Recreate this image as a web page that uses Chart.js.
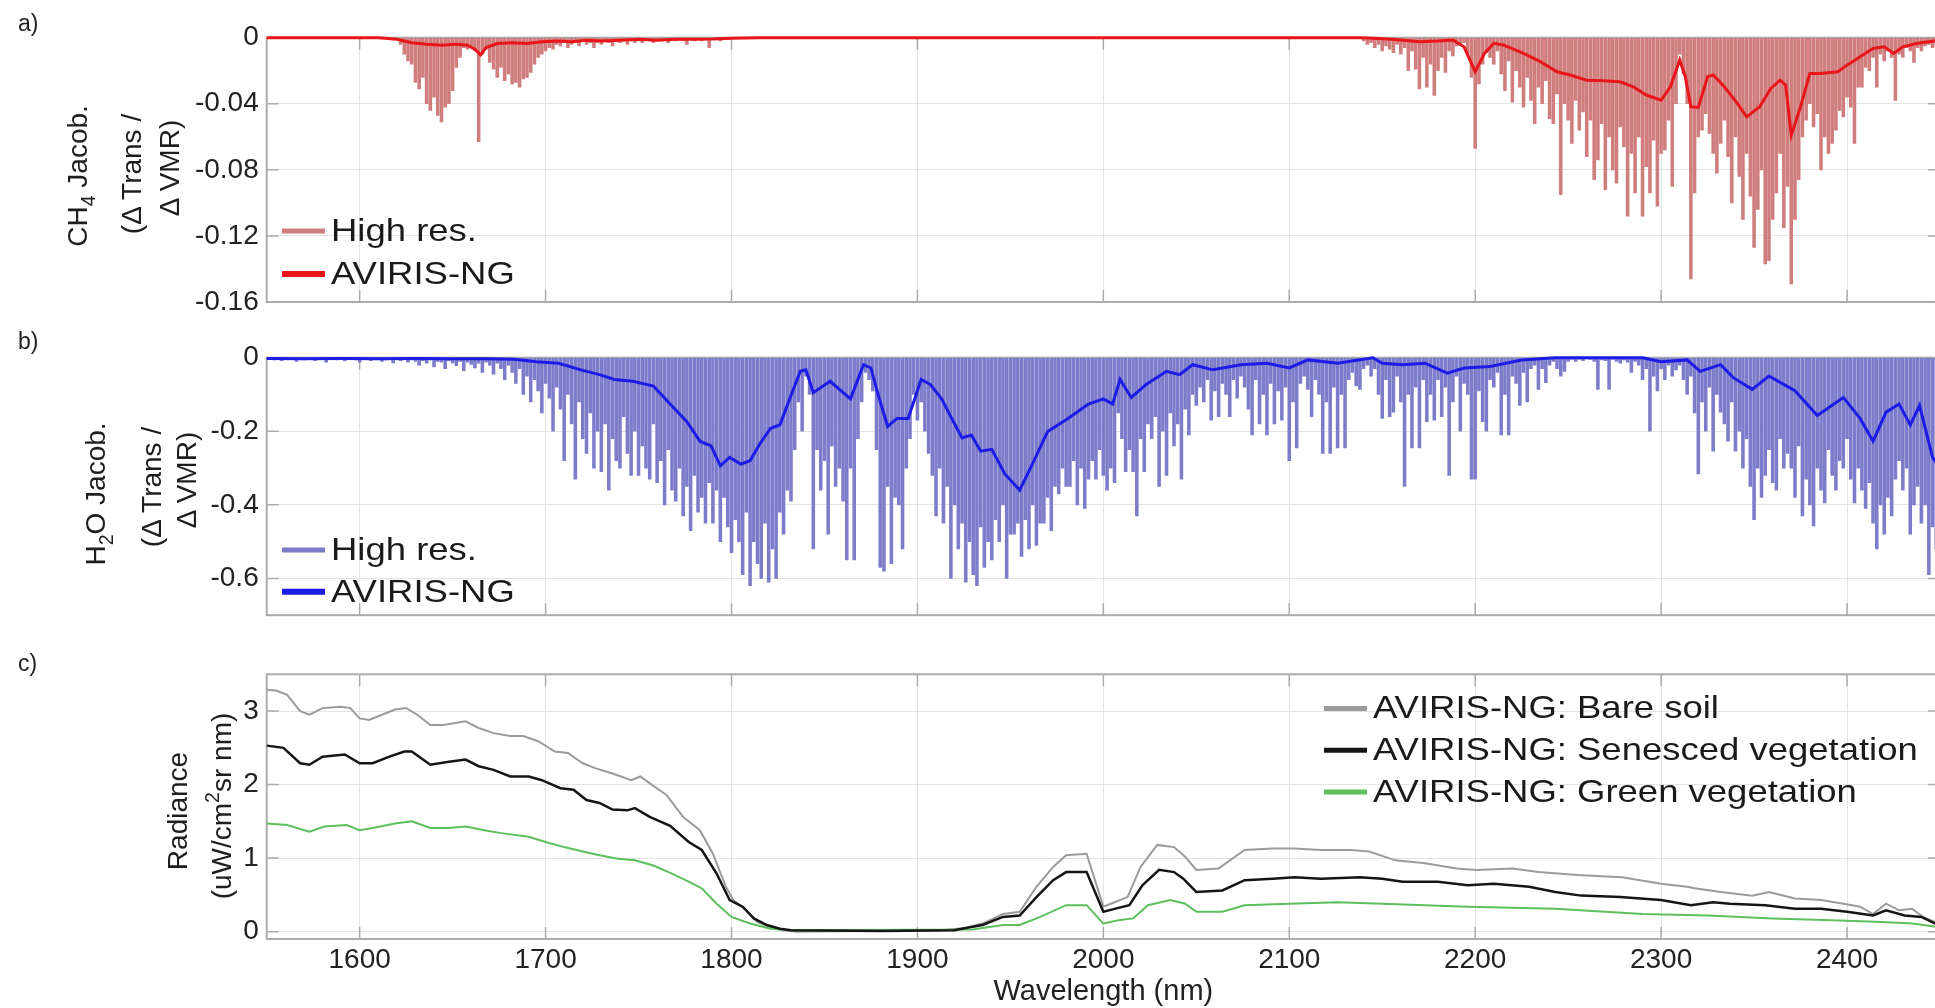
<!DOCTYPE html>
<html lang="en">
<head>
<meta charset="utf-8">
<title>CH4 and H2O Jacobians with AVIRIS-NG radiance</title>
<script src="https://cdn.jsdelivr.net/npm/chart.js@4.4.1/dist/chart.umd.min.js"></script>
<style>
  html, body { margin: 0; padding: 0; background: #fff; overflow: hidden; }
  #fig { position: relative; width: 1935px; height: 1008px; overflow: hidden;
         font-family: "Liberation Sans", Arial, Helvetica, sans-serif; color: #1e1e1e; }
  #fig canvas { position: absolute; left: 0; }
  .tag { position: absolute; left: 18px; font-size: 23px; line-height: 1; transform: translateY(-50%); }
  .yt { position: absolute; white-space: nowrap; font-size: 28px; line-height: 1;
        transform: translate(-50%, -50%) rotate(-90deg); }
  .yt sub { font-size: 0.7em; vertical-align: -0.4em; line-height: 0; }
  .yt sup { font-size: 0.7em; vertical-align: 0.6em; line-height: 0; }
</style>
</head>
<body>
<div id="fig">
  <canvas id="panelA" width="1941" height="330" style="top:0px"></canvas>
  <canvas id="panelB" width="1941" height="310" style="top:330px"></canvas>
  <canvas id="panelC" width="1941" height="368" style="top:640px"></canvas>

  <div class="tag" style="top:23px">a)</div>
  <div class="tag" style="top:341px">b)</div>
  <div class="tag" style="top:663px">c)</div>

  <div class="yt" style="left:78px; top:176px">CH<sub>4</sub> Jacob.</div>
  <div class="yt" style="left:132px; top:174px">(&Delta; Trans /</div>
  <div class="yt" style="left:170px; top:168px">&Delta; VMR)</div>

  <div class="yt" style="left:96px; top:494px">H<sub>2</sub>O Jacob.</div>
  <div class="yt" style="left:152px; top:487px">(&Delta; Trans /</div>
  <div class="yt" style="left:187px; top:480px">&Delta; VMR)</div>

  <div class="yt" style="left:178px; top:811px">Radiance</div>
  <div class="yt" style="left:222px; top:806px">(uW/cm<sup>2</sup>sr nm)</div>
</div>

<script>
// ---------- axes ----------
const xTickValues = [1600, 1700, 1800, 1900, 2000, 2100, 2200, 2300, 2400];
const xTickLabels = ['1600', '1700', '1800', '1900', '2000', '2100', '2200', '2300', '2400'];
const ch4TickValues = [-0.16, -0.12, -0.08, -0.04, 0];
const ch4TickLabels = ['-0.16', '-0.12', '-0.08', '-0.04', '0'];
const h2oTickValues = [-0.6, -0.4, -0.2, 0];
const h2oTickLabels = ['-0.6', '-0.4', '-0.2', '0'];
const radTickValues = [0, 1, 2, 3];
const radTickLabels = ['0', '1', '2', '3'];

// ---------- a) CH4 Jacobian ----------
// high-resolution spectrum, 2 nm grid, two absorption bands
const ch4HiStartA = 1620;
const ch4HiA = [
  -.001,-.004,-.010,-.014,-.016,-.027,-.031,-.024,-.040,-.044,
  -.036,-.047,-.051,-.042,-.040,-.032,-.018,-.012,-.006,-.007,
  -.005,-.008,-.063,-.010,-.007,-.015,-.019,-.024,-.018,-.026,
  -.022,-.028,-.027,-.030,-.025,-.024,-.021,-.016,-.012,-.010,
  -.008,-.006,-.007,-.004,-.005,-.003,-.006,-.004,-.003,-.005,
  -.002,-.004,-.003,-.006,-.003,-.004,-.002,-.003,-.005,-.002,
  -.003,-.002,-.004,-.002,-.003,-.002,-.003,-.001,-.002,-.003,
  -.001,-.002,-.001,-.003,-.001,-.002,-.001,-.002,-.004,-.001,
  -.002,-.001,-.002,-.001,-.006,-.001,-.001,-.002,-.001,-.001,
  0
];
const ch4HiStartB = 2140;
const ch4HiB = [
  -.002,-.004,-.003,-.006,-.004,-.008,-.005,-.007,-.009,-.004,
  -.010,-.006,-.020,-.008,-.019,-.031,-.012,-.030,-.016,-.035,
  -.020,-.012,-.021,-.008,-.011,-.005,-.004,-.003,-.010,-.024,
  -.067,-.028,-.016,-.009,-.012,-.016,-.008,-.022,-.032,-.014,
  -.039,-.020,-.030,-.042,-.024,-.038,-.052,-.030,-.040,-.026,
  -.049,-.052,-.034,-.095,-.040,-.050,-.064,-.038,-.056,-.045,
  -.072,-.050,-.086,-.074,-.052,-.092,-.060,-.080,-.088,-.054,
  -.066,-.108,-.070,-.094,-.060,-.108,-.078,-.094,-.062,-.102,
  -.070,-.068,-.050,-.090,-.040,-.010,-.022,-.040,-.146,-.094,
  -.060,-.056,-.046,-.058,-.070,-.082,-.064,-.050,-.072,-.100,
  -.060,-.084,-.110,-.070,-.096,-.127,-.104,-.080,-.137,-.135,
  -.110,-.094,-.070,-.115,-.090,-.149,-.110,-.086,-.060,-.050,
  -.040,-.054,-.046,-.080,-.060,-.070,-.064,-.056,-.044,-.048,
  -.036,-.042,-.064,-.030,-.030,-.018,-.020,-.012,-.030,-.010,
  -.014,-.008,-.012,-.038,-.010,-.012,-.006,-.008,-.015,-.006,
  -.008,-.005,-.004,-.006,-.004,-.003
];
// AVIRIS-NG convolved Jacobian
const ch4AvNm = [1550,1610,1620,1628,1636,1644,1652,1658,1662,1665,1668,1674,1682,1690,1698,1706,1714,1722,1730,1740,
  1750,1760,1770,1780,1790,1800,1815,2140,2155,2170,2180,2188,2194,2200,2205,2210,2215,2226,2235,2244,
  2251,2260,2269,2278,2285,2292,2300,2305,2310,2313,2316,2320,2325,2328,2334,2341,2346,2353,2359,2364,
  2367,2370,2375,2380,2386,2395,2400,2407,2414,2420,2425,2430,2438,2450];
const ch4AvVal = [0,0,-.001,-.003,-.004,-.0045,-.004,-.0045,-.007,-.0105,-.006,-.0035,-.003,-.0035,-.0025,-.002,-.0025,-.0015,-.002,-.0015,
  -.001,-.0015,-.001,-.001,-.0008,-.0003,0,0,-.001,-.0024,-.002,-.0014,-.0055,-.0206,-.0095,-.0034,-.0044,-.0095,-.0145,-.0206,
  -.0226,-.0257,-.026,-.0267,-.0297,-.0347,-.0378,-.0297,-.0135,-.0236,-.0418,-.0422,-.0236,-.0226,-.0297,-.0398,-.0479,-.0418,-.0307,-.0257,
  -.0287,-.059,-.0418,-.0216,-.0216,-.0206,-.0166,-.0115,-.0065,-.0055,-.0095,-.0055,-.0034,-.0016];

// ---------- b) H2O Jacobian ----------
const h2oHiStart = 1550;
const h2oHi = [
  -.004,-.002,-.006,-.003,-.008,-.002,-.005,-.003,-.010,-.002,
  -.006,-.003,-.004,-.008,-.002,-.005,-.012,-.003,-.004,-.006,
  -.003,-.009,-.004,-.002,-.006,-.012,-.004,-.003,-.008,-.005,
  -.004,-.010,-.006,-.003,-.014,-.005,-.008,-.004,-.012,-.006,
  -.010,-.020,-.008,-.015,-.006,-.025,-.010,-.012,-.030,-.008,
  -.014,-.022,-.010,-.035,-.012,-.018,-.028,-.015,-.040,-.012,
  -.020,-.045,-.015,-.030,-.060,-.020,-.040,-.070,-.030,-.100,
  -.050,-.120,-.060,-.090,-.150,-.070,-.110,-.200,-.080,-.140,
  -.280,-.100,-.180,-.330,-.120,-.220,-.260,-.150,-.300,-.200,
  -.310,-.180,-.360,-.220,-.280,-.300,-.160,-.260,-.320,-.200,
  -.320,-.240,-.300,-.330,-.180,-.340,-.280,-.400,-.250,-.360,
  -.390,-.300,-.430,-.350,-.470,-.320,-.420,-.380,-.450,-.340,
  -.450,-.360,-.500,-.380,-.460,-.530,-.440,-.500,-.590,-.420,
  -.620,-.500,-.560,-.600,-.450,-.610,-.520,-.600,-.420,-.480,
  -.360,-.390,-.250,-.120,-.200,-.050,-.100,-.520,-.250,-.360,
  -.280,-.480,-.240,-.350,-.300,-.390,-.550,-.300,-.550,-.220,
  -.120,-.040,-.060,-.090,-.250,-.570,-.580,-.350,-.560,-.380,
  -.400,-.520,-.300,-.220,-.100,-.170,-.120,-.200,-.260,-.320,
  -.430,-.300,-.450,-.350,-.600,-.400,-.520,-.450,-.610,-.500,
  -.590,-.620,-.460,-.570,-.500,-.550,-.440,-.500,-.400,-.600,
  -.480,-.480,-.450,-.540,-.440,-.520,-.400,-.510,-.450,-.450,
  -.380,-.470,-.350,-.370,-.300,-.350,-.350,-.280,-.400,-.300,
  -.410,-.330,-.280,-.330,-.250,-.320,-.360,-.300,-.340,-.150,
  -.220,-.310,-.250,-.310,-.430,-.220,-.310,-.180,-.220,-.160,
  -.350,-.200,-.320,-.150,-.240,-.180,-.330,-.140,-.210,-.100,
  -.130,-.080,-.120,-.060,-.170,-.090,-.160,-.070,-.100,-.160,
  -.060,-.110,-.050,-.080,-.140,-.210,-.060,-.180,-.100,-.210,
  -.070,-.180,-.090,-.170,-.080,-.280,-.120,-.245,-.070,-.050,
  -.086,-.160,-.060,-.100,-.260,-.120,-.260,-.080,-.245,-.100,
  -.245,-.060,-.040,-.077,-.086,-.030,-.020,-.050,-.030,-.100,
  -.165,-.060,-.160,-.148,-.050,-.120,-.350,-.100,-.245,-.080,
  -.245,-.060,-.174,-.100,-.170,-.060,-.160,-.080,-.320,-.120,
  -.050,-.200,-.070,-.100,-.330,-.330,-.090,-.174,-.200,-.060,
  -.080,-.040,-.210,-.100,-.210,-.050,-.070,-.130,-.040,-.120,
  -.030,-.020,-.086,-.030,-.068,-.020,-.010,-.030,-.050,-.037,
  -.010,-.005,-.010,-.004,-.008,-.003,-.005,-.010,-.086,-.006,
  -.008,-.086,-.005,-.010,-.015,-.006,-.012,-.040,-.010,-.020,
  -.060,-.030,-.200,-.050,-.090,-.030,-.060,-.020,-.050,-.033,
  -.020,-.060,-.100,-.050,-.150,-.316,-.120,-.200,-.080,-.254,
  -.100,-.148,-.180,-.227,-.120,-.254,-.200,-.300,-.220,-.350,
  -.440,-.300,-.380,-.320,-.250,-.340,-.360,-.220,-.300,-.260,
  -.300,-.380,-.240,-.430,-.330,-.400,-.457,-.300,-.360,-.395,
  -.250,-.320,-.360,-.280,-.300,-.220,-.330,-.395,-.300,-.360,
  -.410,-.340,-.450,-.520,-.400,-.480,-.380,-.430,-.330,-.280,
  -.360,-.300,-.480,-.400,-.350,-.450,-.400,-.590,-.460,-.520,
  -.500
];
const h2oAvNm = [1550,1570,1590,1610,1630,1650,1668,1683,1695,1707,1719,1729,1737,1747,1758,1767,1776,1783,1789,1794,
  1799,1805,1810,1815,1821,1826,1832,1837,1840,1844,1853,1864,1871,1875,1879,1884,1889,1895,1902,1907,
  1913,1918,1924,1929,1934,1940,1947,1955,1961,1970,1981,1992,2000,2005,2009,2015,2023,2034,2041,2048,
  2059,2074,2088,2100,2110,2126,2145,2150,2161,2173,2185,2194,2208,2225,2243,2290,2300,2314,2321,2332,
  2339,2349,2358,2372,2384,2398,2407,2414,2421,2428,2434,2439,2446,2450];
const h2oAvVal = [-.002,-.003,-.002,-.003,-.002,-.003,-.003,-.004,-.011,-.015,-.033,-.046,-.059,-.064,-.077,-.126,-.174,-.227,-.240,-.294,
  -.271,-.289,-.280,-.236,-.192,-.183,-.103,-.037,-.033,-.095,-.064,-.112,-.019,-.028,-.103,-.187,-.165,-.165,-.059,-.073,
  -.112,-.161,-.218,-.210,-.254,-.249,-.316,-.360,-.298,-.201,-.165,-.126,-.112,-.126,-.059,-.108,-.073,-.037,-.046,-.019,
  -.033,-.019,-.015,-.028,-.006,-.015,0,-.015,-.019,-.015,-.042,-.028,-.024,-.006,0,0,-.011,-.006,-.037,-.019,
  -.055,-.086,-.050,-.090,-.157,-.108,-.165,-.227,-.148,-.126,-.183,-.130,-.271,-.300];

// ---------- c) AVIRIS-NG radiance spectra ----------
const soilNm = [1550,1555,1561,1568,1573,1580,1590,1595,1600,1605,1612,1619,1625,1631,1638,1645,1657,1664,1672,1681,
  1688,1696,1705,1712,1720,1727,1736,1746,1751,1757,1765,1774,1783,1790,1797,1801,1808,1814,1821,1828,
  1835,1870,1912,1926,1935,1946,1955,1964,1973,1980,1991,2000,2004,2013,2020,2029,2038,2044,2050,2062,
  2076,2091,2103,2117,2133,2143,2157,2173,2190,2201,2220,2234,2255,2279,2300,2314,2318,2332,2349,2358,
  2372,2386,2398,2407,2414,2421,2428,2435,2441,2450];
const soilRad = [3.29,3.28,3.22,3.00,2.95,3.04,3.06,3.04,2.90,2.88,2.95,3.02,3.04,2.95,2.81,2.81,2.86,2.77,2.70,2.66,
  2.66,2.59,2.45,2.43,2.29,2.22,2.15,2.06,2.11,2.00,1.86,1.56,1.38,1.06,0.61,0.43,0.29,0.13,0.06,0.02,
  0.00,0.01,0.02,0.05,0.11,0.24,0.27,0.61,0.88,1.04,1.06,0.34,0.38,0.47,0.88,1.18,1.15,1.02,0.84,0.86,
  1.11,1.13,1.13,1.11,1.11,1.09,0.97,0.93,0.86,0.84,0.86,0.81,0.77,0.74,0.65,0.61,0.59,0.54,0.49,0.54,
  0.45,0.43,0.38,0.34,0.24,0.38,0.29,0.31,0.20,0.10];
const senescedNm = [1550,1559,1568,1573,1580,1592,1600,1607,1616,1624,1628,1638,1648,1657,1664,1672,1681,1691,1698,1708,
  1715,1722,1729,1736,1744,1748,1756,1767,1777,1784,1792,1799,1806,1812,1819,1826,1832,1880,1920,1926,
  1935,1946,1955,1964,1973,1980,1991,2000,2006,2014,2021,2030,2038,2043,2050,2064,2076,2091,2103,2117,
  2138,2150,2161,2180,2196,2210,2229,2243,2257,2278,2300,2316,2328,2337,2356,2372,2386,2400,2414,2421,
  2431,2440,2450];
const senescedRad = [2.53,2.50,2.29,2.27,2.38,2.41,2.29,2.29,2.38,2.45,2.45,2.27,2.31,2.34,2.25,2.20,2.11,2.11,2.06,1.95,
  1.93,1.79,1.75,1.66,1.65,1.68,1.56,1.44,1.22,1.11,0.79,0.43,0.34,0.18,0.09,0.04,0.02,0.01,0.02,0.05,
  0.09,0.20,0.22,0.47,0.70,0.81,0.81,0.27,0.31,0.36,0.63,0.84,0.81,0.72,0.54,0.56,0.70,0.72,0.74,0.72,
  0.74,0.72,0.68,0.68,0.63,0.65,0.61,0.54,0.49,0.47,0.43,0.36,0.40,0.38,0.36,0.31,0.31,0.27,0.22,0.29,
  0.22,0.20,0.08];
const greenNm = [1550,1561,1573,1581,1593,1600,1607,1619,1628,1638,1648,1657,1667,1676,1691,1700,1710,1720,1729,1739,
  1748,1758,1768,1777,1784,1792,1800,1810,1821,1832,1930,1935,1946,1955,1966,1980,1991,2000,2009,2016,
  2024,2036,2044,2050,2064,2076,2100,2126,2150,2196,2243,2290,2325,2360,2396,2419,2435,2450];
const greenRad = [1.47,1.45,1.36,1.43,1.45,1.38,1.41,1.47,1.50,1.41,1.41,1.43,1.38,1.34,1.29,1.22,1.15,1.09,1.04,0.99,
  0.97,0.90,0.79,0.68,0.59,0.38,0.20,0.11,0.04,0.02,0.03,0.05,0.09,0.09,0.20,0.36,0.36,0.11,0.16,0.18,
  0.36,0.43,0.38,0.27,0.27,0.36,0.38,0.40,0.38,0.34,0.31,0.24,0.22,0.18,0.15,0.13,0.11,0.06];

// ---------- styling ----------
const FONT = '"Liberation Sans", Arial, Helvetica, sans-serif';
const TEXT = '#222222';
const GRID = '#e4e4e4';
const FRAME = '#ababab';
const AXIS_LEFT = 266.7;
const HI_STEP = 2;

Chart.defaults.font.family = FONT;
Chart.defaults.color = TEXT;

const pairs = (xs, ys) => xs.map((x, i) => ({ x, y: ys[i] }));
const lines = (start, vals) => vals.map((v, i) => ({ x: start + i * HI_STEP, y: v }));

// axes box with inward tick marks, drawn beneath the data
const framePlugin = {
  id: 'frame',
  beforeDatasetsDraw(chart, args, o) {
    const { ctx, chartArea: a, scales: { x, y } } = chart;
    ctx.save();
    ctx.strokeStyle = o.color;
    ctx.lineWidth = o.width;
    ctx.strokeRect(a.left, a.top, a.right - a.left, a.bottom - a.top);
    ctx.lineWidth = o.tickWidth;
    ctx.beginPath();
    x.ticks.forEach(t => {
      const px = x.getPixelForValue(t.value);
      ctx.moveTo(px, a.bottom); ctx.lineTo(px, a.bottom - o.tick);
      ctx.moveTo(px, a.top); ctx.lineTo(px, a.top + o.tick);
    });
    y.ticks.forEach(t => {
      const py = y.getPixelForValue(t.value);
      ctx.moveTo(a.left, py); ctx.lineTo(a.left + o.tick, py);
      ctx.moveTo(a.right, py); ctx.lineTo(a.right - o.tick, py);
    });
    ctx.stroke();
    ctx.restore();
  }
};

// legend placed inside the plot area: line sample followed by the label
const insetLegend = {
  id: 'insetLegend',
  afterDatasetsDraw(chart, args, o) {
    const ctx = chart.ctx;
    ctx.save();
    ctx.font = o.size + 'px ' + FONT;
    ctx.textBaseline = 'middle';
    ctx.fillStyle = '#1a1a1a';
    chart.data.datasets.forEach((ds, i) => {
      const yy = o.y + i * o.rowGap;
      ctx.strokeStyle = ds.legendColor;
      ctx.lineWidth = ds.legendWidth;
      ctx.beginPath();
      ctx.moveTo(o.x, yy);
      ctx.lineTo(o.x + o.sample, yy);
      ctx.stroke();
      ctx.save();
      ctx.translate(o.x + o.sample + o.gap, yy + 1);
      ctx.scale(o.stretch, 1);
      ctx.fillText(ds.label, 0, 0);
      ctx.restore();
    });
    ctx.restore();
  }
};

function xScale(withLabels) {
  return {
    type: 'linear', min: 1550, max: 2450, offset: false,
    afterBuildTicks: s => { s.ticks = xTickValues.map(v => ({ value: v })); },
    afterFit: s => { s.height = withLabels ? 69 : 0; },
    grid: { color: GRID, lineWidth: 1, drawTicks: false, offset: false },
    border: { display: false },
    ticks: {
      display: withLabels, padding: 4, maxRotation: 0, autoSkip: false,
      color: TEXT, font: { size: 28 }, callback: (v, i) => xTickLabels[i]
    },
    title: {
      display: withLabels, text: 'Wavelength (nm)', color: TEXT,
      font: { size: 29, lineHeight: 1 }, padding: { top: 0, bottom: 2 }
    }
  };
}

function yScale(min, max, values, labels) {
  return {
    type: 'linear', min, max,
    afterBuildTicks: s => { s.ticks = values.map(v => ({ value: v })); },
    afterFit: s => { s.width = AXIS_LEFT; },
    grid: { color: GRID, lineWidth: 1, drawTicks: false },
    border: { display: false },
    ticks: { padding: 8, color: TEXT, font: { size: 28 }, callback: (v, i) => labels[i] }
  };
}

function baseOptions(padTop, padBottom, legendPos, xLabels, y) {
  return {
    responsive: false, maintainAspectRatio: false, animation: false, events: [],
    layout: { padding: { top: padTop, bottom: padBottom, left: 0, right: 1 } },
    plugins: {
      legend: { display: false }, tooltip: { enabled: false },
      frame: { color: FRAME, width: 2, tickWidth: 1.5, tick: 12 },
      insetLegend: Object.assign({ sample: 43, gap: 6, size: 32, stretch: 1.14 }, legendPos)
    },
    scales: { x: xScale(xLabels), y }
  };
}

const CH4_HI = '#cf7d7d', CH4_AV = '#e8161b';
const H2O_HI = '#7c7cca', H2O_AV = '#1c1ce6';
const SOIL = '#9b9b9b', SENESCED = '#151515', GREEN = '#5dbf5d';
const HI_BAR = 2.9;

new Chart(document.getElementById('panelA'), {
  type: 'bar',
  data: {
    datasets: [
      { type: 'bar', label: 'High res.', data: lines(ch4HiStartA, ch4HiA).concat(lines(ch4HiStartB, ch4HiB)),
        backgroundColor: CH4_HI, borderWidth: 0, barThickness: HI_BAR, order: 2,
        legendColor: CH4_HI, legendWidth: 5 },
      { type: 'line', label: 'AVIRIS-NG', data: pairs(ch4AvNm, ch4AvVal),
        borderColor: CH4_AV, borderWidth: 3, pointRadius: 0, tension: 0, fill: false, order: 1, clip: 4,
        legendColor: CH4_AV, legendWidth: 6 }
    ]
  },
  plugins: [framePlugin, insetLegend],
  options: baseOptions(37.7, 28, { x: 282, y: 231, rowGap: 43 }, false,
    yScale(-0.16, 0, ch4TickValues, ch4TickLabels))
});

new Chart(document.getElementById('panelB'), {
  type: 'bar',
  data: {
    datasets: [
      { type: 'bar', label: 'High res.', data: lines(h2oHiStart, h2oHi),
        backgroundColor: H2O_HI, borderWidth: 0, barThickness: HI_BAR, order: 2,
        legendColor: H2O_HI, legendWidth: 5 },
      { type: 'line', label: 'AVIRIS-NG', data: pairs(h2oAvNm, h2oAvVal),
        borderColor: H2O_AV, borderWidth: 3, pointRadius: 0, tension: 0, fill: false, order: 1, clip: 4,
        legendColor: H2O_AV, legendWidth: 6 }
    ]
  },
  plugins: [framePlugin, insetLegend],
  options: baseOptions(27.7, 18.3, { x: 282, y: 220, rowGap: 41.7 }, false,
    yScale(-0.7, 0, h2oTickValues, h2oTickLabels))
});

new Chart(document.getElementById('panelC'), {
  type: 'line',
  data: {
    datasets: [
      { label: 'AVIRIS-NG: Bare soil', data: pairs(soilNm, soilRad),
        borderColor: SOIL, borderWidth: 2, pointRadius: 0, tension: 0, order: 3,
        legendColor: SOIL, legendWidth: 5 },
      { label: 'AVIRIS-NG: Senesced vegetation', data: pairs(senescedNm, senescedRad),
        borderColor: SENESCED, borderWidth: 2.5, pointRadius: 0, tension: 0, order: 1,
        legendColor: SENESCED, legendWidth: 5 },
      { label: 'AVIRIS-NG: Green vegetation', data: pairs(greenNm, greenRad),
        borderColor: GREEN, borderWidth: 2, pointRadius: 0, tension: 0, order: 2,
        legendColor: GREEN, legendWidth: 5 }
    ]
  },
  plugins: [framePlugin, insetLegend],
  options: baseOptions(34.3, 0, { x: 1324, y: 68.5, rowGap: 41.7 }, true,
    yScale(-0.1, 3.5, radTickValues, radTickLabels))
});
</script>
</body>
</html>
